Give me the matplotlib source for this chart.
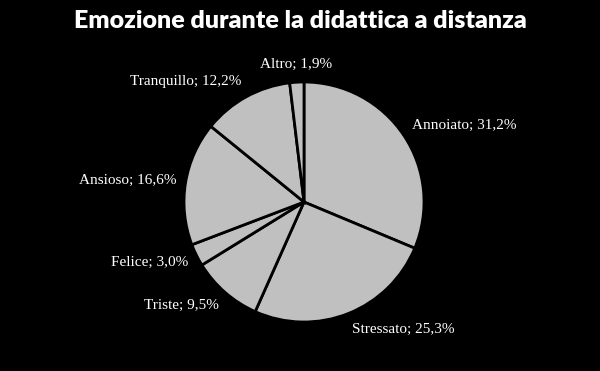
import matplotlib.pyplot as plt

# Emozione durante la didattica a distanza
labels = ["Annoiato", "Stressato", "Triste", "Felice", "Ansioso", "Tranquillo", "Altro"]
values = [31.2, 25.3, 9.5, 3.0, 16.6, 12.2, 1.9]

fig = plt.figure(figsize=(6, 3.71), dpi=100, facecolor="black")
ax = fig.add_axes([184 / 600, 49 / 371, 240 / 600, 240 / 371])
ax.set_facecolor("black")

text_labels = [f"{l}; {v:.1f}%".replace(".", ",") for l, v in zip(labels, values)]
wedges, texts = ax.pie(values, labels=text_labels, startangle=90, counterclock=False,
                       colors=["#c0c0c0"] * len(values), labeldistance=1.08,
                       wedgeprops=dict(edgecolor="black", linewidth=2),
                       textprops=dict(color="white", family="Liberation Serif", fontsize=11))
texts[-1].set_ha("center")
# push labels a little further out vertically, like Excel's outside-end labels
for t in texts:
    x, y = t.get_position()
    t.set_position((x, y * 1.06))
ax.set_xlim(-1, 1)
ax.set_ylim(-1, 1)
ax.set_aspect("equal")

fig.text(0.5, 1 - 21 / 371, "Emozione durante la didattica a distanza", color="white",
         ha="center", va="center", fontsize=18, fontweight="heavy", family="Lato")

fig.savefig("out.png", dpi=100, facecolor="black")
